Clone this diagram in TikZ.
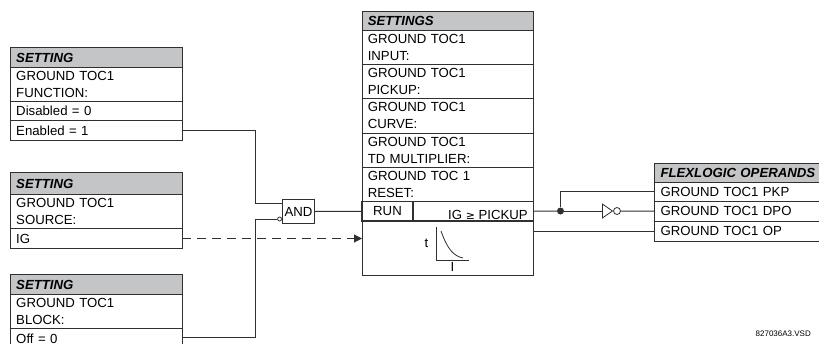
\documentclass[tikz,border=0pt]{standalone}
\usepackage{fontspec}
\setmainfont{Liberation Sans}
\usetikzlibrary{arrows.meta,shapes.geometric}
\definecolor{hdr}{HTML}{C4C5C7}
\definecolor{ink}{HTML}{303030}
\tikzset{
  x=1pt,y=-1pt,
  wire/.style={draw=ink,line width=1pt},
  cell/.style={draw=ink,line width=1pt,anchor=north west,inner sep=0pt,outer sep=0pt,
    font=\fontsize{13.2}{17}\selectfont,align=left,minimum height=#1},
  w172/.style={text width=160pt,minimum width=171.5pt},
  wfl/.style={text width=168pt,minimum width=180pt},
  head/.style={fill=hdr,font=\fontsize{13.2}{17}\selectfont\bfseries\itshape},
  txt/.style={font=\fontsize{13.2}{17}\selectfont,inner sep=0pt},
}
\begin{document}
\begin{tikzpicture}
\useasboundingbox (0,0) rectangle (819,343);
\clip (0,0) rectangle (819,343);
% left boxes
\node[cell=20pt,w172,head] (a0) at (10.5,47.5) {SETTING};
\node[cell=34pt,w172] (a1) at (10.5,67.5) {GROUND TOC1\\FUNCTION:};
\node[cell=19pt,w172] (a2) at (10.5,101.5) {Disabled = 0};
\node[cell=20pt,w172] (a3) at (10.5,120.5) {Enabled = 1};
\node[cell=22pt,w172,head] (b0) at (10.5,172.5) {SETTING};
\node[cell=34pt,w172] (b1) at (10.5,194.5) {GROUND TOC1\\SOURCE:};
\node[cell=20pt,w172] (b2) at (10.5,228.5) {IG};
\node[cell=20pt,w172,head] (c0) at (10.5,274.5) {SETTING};
\node[cell=34pt,w172] (c1) at (10.5,294.5) {GROUND TOC1\\BLOCK:};
\node[cell=20pt,w172] (c2) at (10.5,328.5) {Off = 0};
% centre box
\node[cell=19.5pt,w172,head] (s0) at (362,11) {SETTINGS};
\node[cell=34pt,w172] (s1) at (362,30.5) {GROUND TOC1\\INPUT:};
\node[cell=34pt,w172] (s2) at (362,64.5) {GROUND TOC1\\PICKUP:};
\node[cell=34.5pt,w172] (s3) at (362,98.5) {GROUND TOC1\\CURVE:};
\node[cell=34pt,w172] (s4) at (362,133) {GROUND TOC1\\TD MULTIPLIER:};
\node[cell=34.5pt,w172] (s5) at (362,167) {GROUND TOC 1\\RESET:};
\node[cell=54pt,minimum width=171.5pt] (s7) at (362,221) {};
\node[cell=19.5pt,minimum width=51pt,align=center,line width=1.3pt] (run) at (362,201.5) {RUN};
\node[cell=19.5pt,minimum width=120.5pt,line width=1.3pt] (ig) at (413,201.5) {};
\node[txt,anchor=east] (igl) at (528,214.5) {IG {\fontspec{DejaVu Sans}\fontsize{11}{17}\selectfont≥} PICKUP};
% curve
\coordinate (yt) at (436,227);
\coordinate (or) at (436,260);
\coordinate (xe) at (469,260);
\draw[wire,line width=0.8pt] (yt) -- (or) -- (xe);
\draw[wire,line width=0.8pt] (441,231) .. controls (447,248) and (453,256) .. (463,258);
\node[txt] (tl) at (426.5,243) {t};
\node[txt] (il) at (452.5,266.5) {I};
% right box
\node[cell=19pt,wfl,head] (f0) at (654.5,163) {FLEXLOGIC OPERANDS};
\node[cell=19.5pt,wfl] (f1) at (654.5,182) {GROUND TOC1 PKP};
\node[cell=19.5pt,wfl] (f2) at (654.5,201.5) {GROUND TOC1 DPO};
\node[cell=20pt,wfl] (f3) at (654.5,221) {GROUND TOC1 OP};
% AND
\node[draw=ink,line width=1pt,minimum width=32pt,minimum height=24pt,inner sep=0pt,anchor=north west,
  font=\fontsize{13.2}{17}\selectfont] (and) at (282,199) {AND};
\coordinate (andin1) at (282,203.5);
\node[circle,draw=ink,line width=0.8pt,minimum size=4pt,inner sep=0pt,anchor=east] (neg) at (282,219) {};
% wires
\draw[wire] (a3.east) -| (255,203.5) -- (andin1);
\draw[wire] (c2.west |- 0,337) ++(171.5,0) -| (255,219) -- (neg.west);
\draw[wire] (and.east) -- (run.west);
\draw[wire,dash pattern=on 9pt off 6pt] (b2.east) -- (348,238.5);
\draw[-{Triangle[length=8pt,width=8pt]},wire] (348,238.5) -- (s7.west |- 0,238.5);
% outputs
\node[circle,fill=ink,minimum size=7pt,inner sep=0pt] (dot) at (560.5,211) {};
\node[isosceles triangle,isosceles triangle apex angle=70,draw=ink,line width=0.8pt,minimum height=10pt,minimum width=14pt,inner sep=0pt,anchor=west] (inv) at (602,211) {};
\node[circle,draw=ink,line width=0.8pt,minimum size=7pt,inner sep=0pt,anchor=west] (bub) at (inv.east) {};
\draw[wire] (ig.east) -- (dot);
\draw[wire] (dot) -- (inv.west);
\draw[wire] (bub.east) -- (f2.west);
\draw[wire] (dot) |- (f1.west);
\draw[wire] (s7.east |- f3.west) -- (f3.west);
% job number
\node[font=\fontsize{8}{9}\selectfont,anchor=east,inner sep=0pt] (job) at (811,334) {827036A3.VSD};
\end{tikzpicture}
\end{document}
